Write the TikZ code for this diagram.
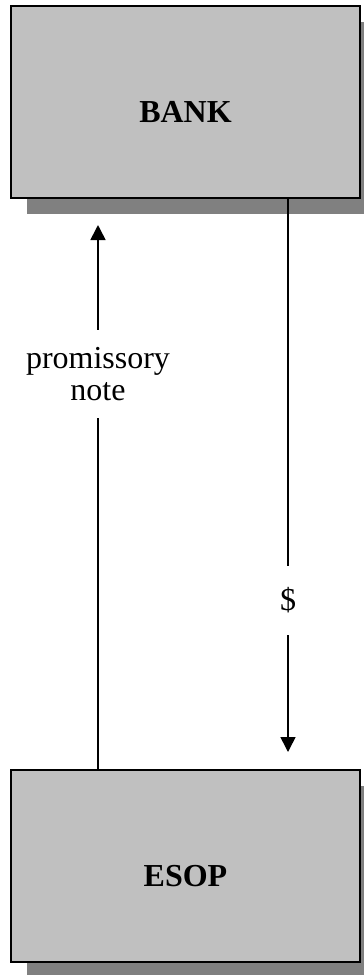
\documentclass[tikz,border=0pt]{standalone}
\usepackage{fontspec}
\setmainfont{Liberation Serif}
\usetikzlibrary{arrows.meta,shadows}
\begin{document}
\begin{tikzpicture}[x=1pt,y=-1pt,
  box/.style={draw=black, line width=1.8pt, fill=boxgray, rectangle,
    minimum width=349pt, minimum height=192pt, inner sep=0pt,
    text height=40pt, text depth=0pt,
    font=\fontsize{32}{32}\selectfont\bfseries,
    drop shadow={shadow xshift=16pt, shadow yshift=-16pt, fill=shadowgray, opacity=1}},
  arr/.style={line width=1.6pt, -{Triangle[length=15pt,width=15pt]}},
  lbl/.style={fill=white, inner sep=0pt, align=center,
    font=\fontsize{32}{32}\selectfont}]
\definecolor{boxgray}{HTML}{C0C0C0}
\definecolor{shadowgray}{HTML}{808080}
\clip (0,0) rectangle (364,975);
\node[box] (bank) at (185.5,102) {BANK};
\node[box] (esop) at (185.5,866) {ESOP};
\coordinate (ptip) at (98,225);
\coordinate (qtip) at (288,752);
\draw[arr] (esop.north -| ptip) -- (ptip);
\draw[arr] (bank.south -| qtip) -- (qtip);
\node[lbl, minimum height=88pt] (pnote) at (98,374) {promissory\\note};
\node[lbl, minimum height=69pt] (cash) at (288,600.5) {\$};
\end{tikzpicture}
\end{document}
